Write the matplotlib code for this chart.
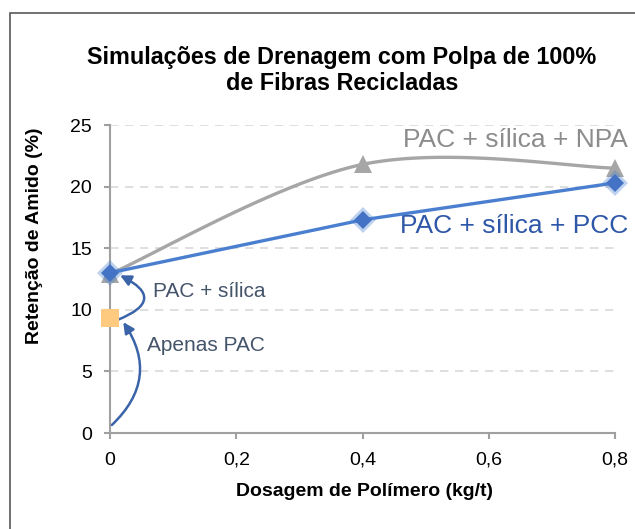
import numpy as np
import matplotlib
matplotlib.use("Agg")
import matplotlib.pyplot as plt
from matplotlib.patches import Rectangle

plt.rcParams['font.family'] = ['Liberation Sans', 'DejaVu Sans']

x_vals = [0.0, 0.4, 0.8]
pcc = [13.0, 17.3, 20.3]
npa = [12.9, 21.8, 21.5]
pac_only_x = [0.0]
pac_only_y = [9.3]
xticks = [0.0, 0.2, 0.4, 0.6, 0.8]
xtick_labels = ["0", "0,2", "0,4", "0,6", "0,8"]
yticks = [0, 5, 10, 15, 20, 25]

title = "Simulações de Drenagem com Polpa de 100%\nde Fibras Recicladas"
xlabel = "Dosagem de Polímero (kg/t)"
ylabel = "Retenção de Amido (%)"


def excel_smooth(xs, ys, n=60):
    xs = np.asarray(xs, float); ys = np.asarray(ys, float)
    px, py = [], []
    m = len(xs)
    for i in range(m - 1):
        i0 = max(i - 1, 0); i3 = min(i + 2, m - 1)
        p0 = np.array([xs[i], ys[i]]); p1 = np.array([xs[i + 1], ys[i + 1]])
        c1 = p0 + (p1 - np.array([xs[i0], ys[i0]])) / 6.0
        c2 = p1 - (np.array([xs[i3], ys[i3]]) - p0) / 6.0
        t = np.linspace(0, 1, n)[:, None]
        pts = ((1 - t) ** 3) * p0 + 3 * ((1 - t) ** 2) * t * c1 + 3 * (1 - t) * t ** 2 * c2 + t ** 3 * p1
        px.extend(pts[:, 0]); py.extend(pts[:, 1])
    return np.array(px), np.array(py)


W, H = 635, 529
fig = plt.figure(figsize=(6.35, 5.29), dpi=100)
fig.patches.append(Rectangle((10 / W, -0.1), 1.2, 1 - 13 / H + 0.1, transform=fig.transFigure,
                             fill=False, edgecolor='#595959', linewidth=1.2))

ax = fig.add_axes([110 / W, 1 - 433 / H, 505 / W, 308 / H])

gray = '#a6a6a6'
blue = '#4a7fd0'

sx, sy = excel_smooth(x_vals, npa)
ax.plot(sx, sy, color=gray, lw=2.4, zorder=3, clip_on=False)
ax.plot(x_vals, npa, linestyle='none', marker='^', ms=13, color=gray, mew=0, zorder=4, clip_on=False)

ax.plot(x_vals, pcc, color=blue, lw=2.4, zorder=5, clip_on=False)
ax.plot(x_vals, pcc, linestyle='none', marker='D', ms=13, color=blue, alpha=0.35, mew=0, zorder=5, clip_on=False)
ax.plot(x_vals, pcc, linestyle='none', marker='D', ms=9, color='#4472c4', mew=0, zorder=6, clip_on=False)

ax.plot(pac_only_x, pac_only_y, linestyle='none', marker='s', ms=12.5, color='#fdca7f', mew=0, zorder=6, clip_on=False)

ax.set_xlim(0, 0.8)
ax.set_ylim(0, 25)
ax.set_xticks(xticks)
ax.set_xticklabels(xtick_labels)
ax.set_yticks(yticks)
for s in ['top', 'right']:
    ax.spines[s].set_visible(False)
for s in ['left', 'bottom']:
    ax.spines[s].set_color('#a0a0a0')
    ax.spines[s].set_linewidth(1.5)
ax.tick_params(axis='both', colors='#a0a0a0', length=4.5, width=1.5, labelcolor='black', labelsize=14)
ax.tick_params(axis='x', pad=9)
ax.tick_params(axis='y', pad=8.5)
ax.grid(axis='y', color='#d9d9d9', linestyle=(0, (5, 4)), linewidth=1.2)
ax.set_axisbelow(True)

fig.text(364 / W, 1 - 492 / H, xlabel, fontsize=14, fontweight='bold', ha='center', va='center')
fig.text(35 / W, 1 - 236 / H, ylabel, fontsize=14, fontweight='bold', ha='center', va='center', rotation=90)
fig.text(342 / W, 1 - 70.5 / H, title, ha='center', va='center', fontsize=16.8, fontweight='bold', linespacing=1.15)

ax.text(0.8206, 23.8, "PAC + sílica + NPA", color='#8c8c8c', fontsize=19, ha='right', va='center', clip_on=False)
ax.text(0.8206, 16.8, "PAC + sílica + PCC", color='#2f57a8', fontsize=19, ha='right', va='center', clip_on=False)
ax.text(0.068, 11.45, "PAC + sílica", color='#44546a', fontsize=15, ha='left', va='center')
ax.text(0.0586, 7.1, "Apenas PAC", color='#44546a', fontsize=15, ha='left', va='center')

arrow_col = '#3b64a8'
ax.annotate("", xy=(0.021, 9.0), xytext=(0.003, 0.65),
            arrowprops=dict(arrowstyle='-|>', color=arrow_col, lw=1.8, connectionstyle='arc3,rad=0.42',
                            mutation_scale=16, shrinkA=0, shrinkB=0))
ax.annotate("", xy=(0.016, 12.8), xytext=(0.013, 9.2),
            arrowprops=dict(arrowstyle='-|>', color=arrow_col, lw=1.8, connectionstyle='arc3,rad=1.1',
                            mutation_scale=16, shrinkA=0, shrinkB=0))

fig.savefig("out.png", dpi=100)
